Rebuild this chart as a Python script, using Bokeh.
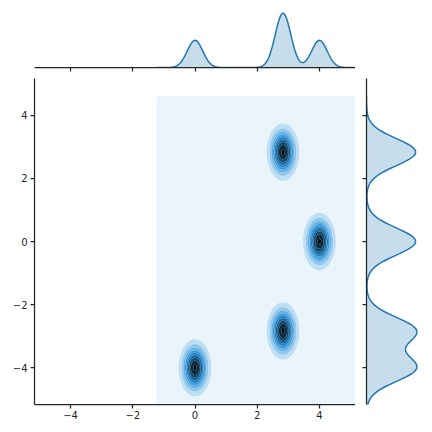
import colorsys
import numpy as np
from bokeh.plotting import figure
from bokeh.layouts import column, row
from bokeh.models import Range1d, FixedTicker
from bokeh.embed import file_html
from bokeh.resources import INLINE

# ---- data ----
cluster_x = [0.0, 2.83, 4.0, 2.83]
cluster_y = [-4.0, -2.83, 0.0, 2.83]
cluster_w = [0.25, 0.25, 0.25, 0.25]
spread_x = [0.25, 0.25, 0.25, 0.25]
spread_y = [0.43, 0.43, 0.43, 0.43]
support_x = [-1.24, 5.6]
support_y = [-5.6, 4.6]
density_levels = [0.0, 0.04, 0.08, 0.12, 0.16, 0.20, 0.24, 0.28, 0.32, 0.36, 0.40]
axis_limits = [-5.16, 5.16]
tick_values = [-4, -2, 0, 2, 4]
tick_labels = ["\u22124", "\u22122", "0", "2", "4"]

C0 = "#1f77b4"
INK = "#262626"
FONT = "DejaVu Sans"

gx = np.linspace(support_x[0], support_x[1], 220)
gy = np.linspace(support_y[0], support_y[1], 220)


def kde1(g, centers, sig, w):
    out = np.zeros_like(g)
    for c, s, wi in zip(centers, sig, w):
        out += wi * np.exp(-0.5 * ((g - c) / s) ** 2) / (np.sqrt(2 * np.pi) * s)
    return out


dens_x = kde1(gx, cluster_x, spread_x, cluster_w)
dens_y = kde1(gy, cluster_y, spread_y, cluster_w)

XX, YY = np.meshgrid(gx, gy)
Z = np.zeros_like(XX)
for cx, cy, sx, sy, w in zip(cluster_x, cluster_y, spread_x, spread_y, cluster_w):
    Z += w * np.exp(-0.5 * (((XX - cx) / sx) ** 2 + ((YY - cy) / sy) ** 2)) / (2 * np.pi * sx * sy)

# colour map: C0 hue, lightness from 1 to 0
h0, l0, s0 = colorsys.rgb_to_hls(31 / 255, 119 / 255, 180 / 255)
n_bands = len(density_levels) - 1
fills = []
for i in range(n_bands):
    li = 1 - (i + 0.5) / n_bands
    r, g, b = colorsys.hls_to_rgb(h0, li, s0)
    fills.append("#%02x%02x%02x" % (round(r * 255), round(g * 255), round(b * 255)))

xr = Range1d(axis_limits[0], axis_limits[1])
yr = Range1d(axis_limits[0], axis_limits[1])
overrides = {v: t for v, t in zip(tick_values, tick_labels)}


def base_style(p):
    p.outline_line_color = None
    p.background_fill_color = "white"
    p.border_fill_color = "white"
    for gr in p.grid:
        gr.visible = False


def style_axis(ax):
    ax.ticker = FixedTicker(ticks=tick_values)
    ax.major_label_overrides = overrides
    ax.minor_tick_line_color = None
    ax.major_tick_in = 0
    ax.major_tick_out = 4
    ax.major_tick_line_width = 1.25
    ax.major_tick_line_color = INK
    ax.axis_line_width = 1.25
    ax.axis_line_color = INK
    ax.major_label_text_font = FONT
    ax.major_label_text_color = INK
    ax.major_label_text_font_size = "10px"
    ax.major_label_standoff = 3


def style_unlabelled_axis(ax):
    # ticks only (drawn as minor ticks, so that no labels are produced)
    ax.ticker = FixedTicker(ticks=[], minor_ticks=tick_values)
    ax.major_tick_line_color = None
    ax.minor_tick_in = 0
    ax.minor_tick_out = 4
    ax.minor_tick_line_width = 1.25
    ax.minor_tick_line_color = INK
    ax.axis_line_width = 1.25
    ax.axis_line_color = INK
    ax.major_label_standoff = 0


# ---- main joint plot ----
main = figure(width=355, height=354, x_range=xr, y_range=yr,
              output_backend="svg", toolbar_location=None,
              min_border_left=34, min_border_right=0,
              min_border_top=0, min_border_bottom=28)
base_style(main)
main.contour(gx, gy, Z, density_levels, fill_color=fills, line_color=None)
style_axis(main.xaxis[0])
main.xaxis[0].major_label_standoff = 2
style_axis(main.yaxis[0])

# ---- top marginal ----
top = figure(width=355, height=78, x_range=xr,
             y_range=Range1d(0, 1.05 * dens_x.max()),
             output_backend="svg", toolbar_location=None,
             y_axis_location=None,
             min_border_left=34, min_border_right=0,
             min_border_top=10, min_border_bottom=11)
base_style(top)
top.varea(x=gx, y1=np.zeros_like(gx), y2=dens_x, fill_color=C0, fill_alpha=0.25)
top.line(gx, dens_x, line_color=C0, line_width=1.5)
style_unlabelled_axis(top.xaxis[0])

# ---- right marginal ----
right = figure(width=77, height=354, y_range=yr,
               x_range=Range1d(0, 1.05 * dens_y.max()),
               output_backend="svg", toolbar_location=None,
               x_axis_location=None,
               min_border_left=11, min_border_right=13,
               min_border_top=0, min_border_bottom=28)
base_style(right)
right.harea(y=gy, x1=np.zeros_like(gy), x2=dens_y, fill_color=C0, fill_alpha=0.25)
right.line(dens_y, gy, line_color=C0, line_width=1.5)
style_unlabelled_axis(right.yaxis[0])

layout = column(top, row(main, right))

open("out.html", "w").write(file_html(layout, INLINE))
